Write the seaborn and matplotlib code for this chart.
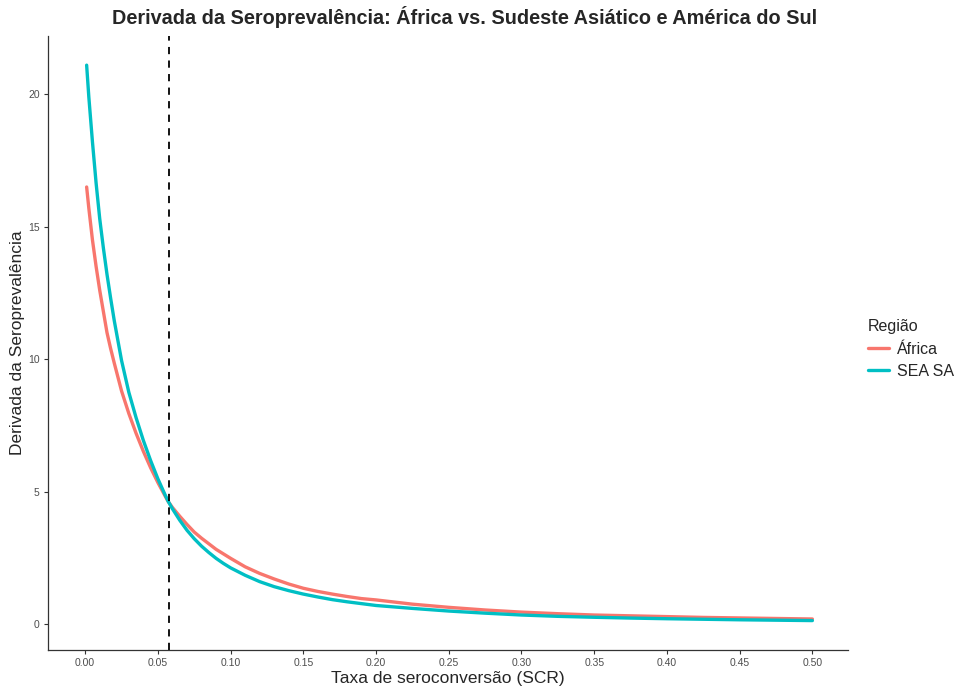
import matplotlib
matplotlib.use("Agg")
import matplotlib.pyplot as plt
import pandas as pd
import seaborn as sns

# valores
scr = [0.001, 0.0025, 0.005, 0.0075, 0.01, 0.0125, 0.015, 0.0175, 0.02, 0.025, 0.03, 0.035,
       0.04, 0.045, 0.05, 0.055, 0.057, 0.06, 0.065, 0.07, 0.075, 0.08, 0.085, 0.09, 0.095,
       0.1, 0.11, 0.12, 0.13, 0.14, 0.15, 0.16, 0.17, 0.18, 0.19, 0.2, 0.225, 0.25, 0.275,
       0.3, 0.325, 0.35, 0.375, 0.4, 0.425, 0.45, 0.475, 0.5]
deriv_africa = [16.5, 15.7, 14.5, 13.5, 12.6, 11.8, 11.0, 10.4, 9.85, 8.8, 7.95, 7.2,
                6.52, 5.9, 5.34, 4.83, 4.63, 4.40, 4.07, 3.76, 3.47, 3.24, 3.03, 2.82, 2.65,
                2.48, 2.16, 1.91, 1.70, 1.51, 1.35, 1.23, 1.13, 1.04, 0.96, 0.91, 0.75, 0.63, 0.53,
                0.45, 0.39, 0.34, 0.31, 0.28, 0.25, 0.23, 0.21, 0.19]
deriv_sea = [21.1, 19.9, 18.2, 16.65, 15.3, 14.2, 13.2, 12.3, 11.45, 9.95, 8.75, 7.79,
             6.93, 6.17, 5.48, 4.87, 4.64, 4.35, 3.92, 3.54, 3.22, 2.94, 2.70, 2.48, 2.29,
             2.12, 1.84, 1.60, 1.41, 1.26, 1.13, 1.02, 0.92, 0.84, 0.77, 0.70, 0.59, 0.49, 0.41,
             0.34, 0.29, 0.255, 0.225, 0.20, 0.18, 0.16, 0.145, 0.13]

regioes = ["África", "SEA SA"]
cores = ["#F8766D", "#00BFC4"]
scr_cruzamento = 0.0575

x_ticks = [0.00, 0.05, 0.10, 0.15, 0.20, 0.25, 0.30, 0.35, 0.40, 0.45, 0.50]
y_ticks = [0, 5, 10, 15, 20]

df = pd.concat([
  pd.DataFrame({"scr": scr, "derivada": deriv_africa, "regiao": regioes[0]}),
  pd.DataFrame({"scr": scr, "derivada": deriv_sea, "regiao": regioes[1]}),
], ignore_index=True)

sns.set_style("ticks")
plt.rcParams["font.family"] = ["Liberation Sans", "DejaVu Sans"]

fig = plt.figure(figsize=(9.62, 6.86), dpi=100)
ax = fig.add_axes([0.05, 0.0525, 0.8315, 0.895])

sns.lineplot(data=df, x="scr", y="derivada", hue="regiao", hue_order=regioes,
             palette=dict(zip(regioes, cores)), linewidth=2.4, ax=ax)
ax.axvline(scr_cruzamento, color="black", linewidth=1.3, linestyle=(0, (4, 3.5)))

ax.set_xlim(-0.0255, 0.5245)
ax.set_ylim(-0.98, 22.2)
ax.set_xticks(x_ticks)
ax.set_xticklabels([f"{v:.2f}" for v in x_ticks])
ax.set_yticks(y_ticks)

for side in ["top", "right"]:
  ax.spines[side].set_visible(False)
for side in ["left", "bottom"]:
  ax.spines[side].set_color("#333333")
  ax.spines[side].set_linewidth(0.9)
ax.tick_params(axis="both", length=3, width=0.8, color="#333333",
               labelsize=7.5, labelcolor="#4D4D4D", pad=3)

fig.text(0.483, 0.975, "Derivada da Seroprevalência: África vs. Sudeste Asiático e América do Sul",
         fontsize=14.3, fontweight="bold", ha="center", va="center")
ax.set_xlabel("Taxa de seroconversão (SCR)", fontsize=12.5, labelpad=2)
ax.set_ylabel("Derivada da Seroprevalência", fontsize=12.5, labelpad=2)

handles, labels = ax.get_legend_handles_labels()
leg = ax.legend(handles, labels, title="Região", loc="center left",
                bbox_to_anchor=(1.017, 0.49), borderaxespad=0, frameon=False,
                fontsize=11.5, title_fontsize=11.5, handlelength=1.3, handletextpad=0.5,
                labelspacing=0.45)
leg._legend_box.align = "left"

fig.savefig("out.png", dpi=100)
